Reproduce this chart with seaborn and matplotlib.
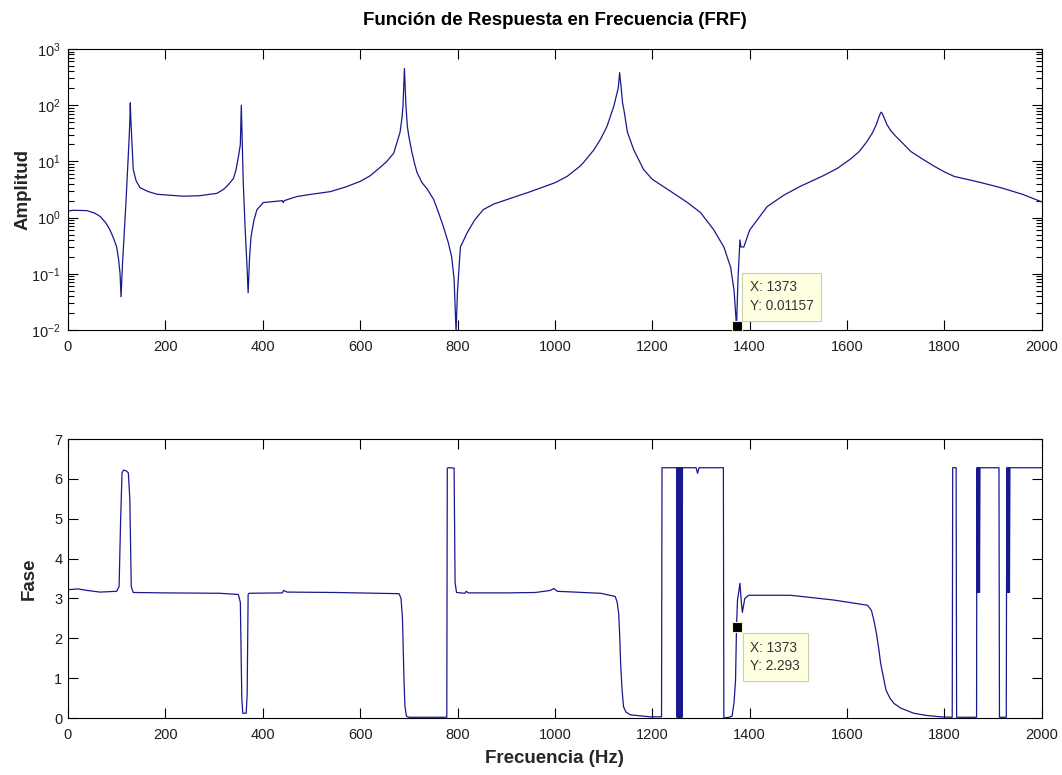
import matplotlib
matplotlib.use("Agg")
import matplotlib.pyplot as plt
from matplotlib.ticker import LogLocator, FixedLocator, NullFormatter
import seaborn as sns
import pandas as pd

# ---- Magnitude of the FRF ----
freq_amp = [0, 10, 39, 55, 66, 78, 86, 94, 100, 104, 107, 109, 112, 116, 119, 121,
            123, 125, 127, 128, 129, 131, 134, 140, 148, 165, 183, 237, 270, 306,
            320, 330, 340, 345, 350, 354, 356, 358, 360, 364, 368, 370, 373, 376,
            382, 388, 401, 440, 442, 444, 470, 500, 539, 570, 600, 620, 641, 655,
            669, 682, 686, 688, 691, 694, 697, 700, 706, 712, 717, 727, 738, 751,
            761, 771, 781, 788, 793, 797, 800, 806, 820, 835, 853, 875, 902, 950,
            1001, 1025, 1050, 1059, 1080, 1094, 1107, 1121, 1130, 1133, 1136, 1139,
            1142, 1149, 1162, 1182, 1200, 1231, 1272, 1299, 1326, 1347, 1361, 1368,
            1373, 1376, 1380, 1382, 1388, 1400, 1436, 1470, 1504, 1550, 1580, 1607,
            1625, 1640, 1652, 1660, 1665, 1668, 1670, 1672, 1676, 1682, 1690, 1700,
            1710, 1731, 1755, 1779, 1800, 1820, 1870, 1916, 1960, 2000]
amplitude = [1.30, 1.35, 1.33, 1.2, 1.05, 0.8, 0.61, 0.42, 0.30, 0.18, 0.1, 0.039,
             0.15, 0.6, 1.8, 4.2, 9, 20, 50, 110, 60, 25, 7.2, 4.5, 3.4, 2.9, 2.6,
             2.4, 2.45, 2.7, 3.2, 3.9, 5.0, 7, 12, 20, 100, 20, 4.2, 0.6, 0.12, 0.046,
             0.2, 0.46, 0.9, 1.38, 1.85, 2.0, 1.85, 2.0, 2.37, 2.6, 2.9, 3.5, 4.4,
             5.5, 7.8, 10, 14, 33, 60, 96, 450, 100, 42, 28, 15, 9, 6.3, 4.2, 3.2,
             2.1, 1.23, 0.69, 0.36, 0.2, 0.08, 0.0095, 0.05, 0.3, 0.54, 0.9, 1.39,
             1.75, 2.1, 2.9, 4.2, 5.4, 8, 9.6, 16, 25, 42, 96, 200, 380, 200, 110,
             80, 33, 16, 7.2, 4.8, 3.2, 1.86, 1.23, 0.61, 0.3, 0.13, 0.05, 0.01157,
             0.08, 0.4, 0.3, 0.3, 0.6, 1.57, 2.5, 3.6, 5.5, 7.5, 11, 15, 22, 32, 45,
             60, 70, 75, 72, 60, 45, 35, 28, 23, 15, 11, 8.2, 6.5, 5.4, 4.3, 3.4,
             2.6, 1.9]

# ---- Phase of the FRF (rad, wrapped to 0..2pi) ----
freq_phase = [0, 1, 20, 40, 66, 85, 100, 105, 108, 111, 114, 120, 124, 127, 130, 134,
              200, 312, 350, 354, 357, 359, 366, 368, 370, 372, 440, 443, 450, 550,
              640, 680, 684, 687, 690, 692, 695, 700, 778, 779, 782, 793, 795, 798,
              815, 818, 822, 900, 960, 990, 998, 1005, 1060, 1094, 1124, 1128, 1131,
              1133, 1135, 1138, 1141, 1146, 1155, 1196, 1219, 1220, 1250, 1251, 1252,
              1253, 1254, 1255, 1256, 1257, 1258, 1259, 1260, 1261, 1262, 1290, 1293,
              1296, 1346, 1347, 1358, 1364, 1368, 1371, 1373, 1375, 1378, 1380, 1383,
              1385, 1390, 1398, 1484, 1573, 1642, 1650, 1655, 1660, 1665, 1669, 1675,
              1680, 1688, 1696, 1710, 1737, 1760, 1792, 1816, 1817, 1824, 1825, 1866,
              1866.3, 1867, 1868, 1869, 1870, 1871, 1872, 1873, 1912, 1912.5, 1913,
              1927, 1927.5, 1928.5, 1929.5, 1930.5, 1931.5, 1932.5, 1933.5, 1934.5,
              2000]
phase = [4.9, 3.22, 3.24, 3.2, 3.16, 3.17, 3.18, 3.3, 4.9, 6.15, 6.22, 6.2, 6.15, 5.5,
         3.3, 3.15, 3.14, 3.13, 3.1, 2.9, 0.5, 0.12, 0.12, 0.6, 3.1, 3.13, 3.14, 3.2,
         3.16, 3.15, 3.13, 3.12, 3.0, 2.5, 1.0, 0.3, 0.05, 0.02, 0.02, 6.27, 6.28,
         6.27, 3.4, 3.15, 3.13, 3.18, 3.14, 3.14, 3.15, 3.2, 3.25, 3.18, 3.15, 3.13,
         3.05, 2.9, 2.62, 2.1, 1.37, 0.7, 0.28, 0.15, 0.08, 0.03, 0.03, 6.28, 6.28,
         0.02, 6.28, 0.02, 6.28, 0.02, 6.28, 0.02, 6.28, 0.02, 6.28, 0.02, 6.28, 6.28,
         6.14, 6.28, 6.28, 0.0, 0.02, 0.05, 0.4, 0.95, 2.293, 2.96, 3.2, 3.38, 2.9,
         2.65, 3.0, 3.08, 3.08, 2.96, 2.83, 2.7, 2.46, 2.15, 1.75, 1.37, 1.0, 0.7,
         0.5, 0.37, 0.25, 0.12, 0.07, 0.03, 0.02, 6.28, 6.28, 0.02, 0.02, 3.15, 6.28,
         3.15, 6.28, 3.15, 6.28, 3.15, 6.28, 6.28, 3.15, 0.02, 0.02, 3.15, 6.28, 3.15,
         6.28, 3.15, 6.28, 3.15, 6.28, 6.28]

# Data cursor readouts
tip_freq = 1373
tip_amp = 0.01157
tip_phase = 2.293

x_ticks = [0, 200, 400, 600, 800, 1000, 1200, 1400, 1600, 1800, 2000]
phase_ticks = [0, 1, 2, 3, 4, 5, 6, 7]

sns.set_style("ticks")
plt.rcParams["font.family"] = ["Liberation Sans", "DejaVu Sans"]
plt.rcParams["mathtext.fontset"] = "custom"
plt.rcParams["mathtext.rm"] = "Liberation Sans"
plt.rcParams["mathtext.it"] = "Liberation Sans:italic"
plt.rcParams["mathtext.bf"] = "Liberation Sans:bold"

line_color = "#18188f"
text_color = "#1e1e1e"

fig = plt.figure(figsize=(10.62, 7.75), dpi=100)
ax1 = fig.add_axes([0.064, 0.5742, 0.917, 0.3626])
ax2 = fig.add_axes([0.064, 0.0735, 0.917, 0.3600])

amp_df = pd.DataFrame({"f": freq_amp, "a": amplitude})
ph_df = pd.DataFrame({"f": freq_phase, "p": phase})

sns.lineplot(data=amp_df, x="f", y="a", ax=ax1, sort=False, estimator=None,
             color=line_color, linewidth=0.9)
sns.lineplot(data=ph_df, x="f", y="p", ax=ax2, sort=False, estimator=None,
             color=line_color, linewidth=0.9)

ax1.set_yscale("log")
ax1.set_ylim(1e-2, 1e3)
ax1.yaxis.set_major_locator(LogLocator(base=10, numticks=10))
ax1.yaxis.set_minor_locator(LogLocator(base=10, subs=range(2, 10), numticks=100))
ax1.yaxis.set_minor_formatter(NullFormatter())
ax2.set_ylim(0, 7)
ax2.yaxis.set_major_locator(FixedLocator(phase_ticks))

for ax in (ax1, ax2):
    ax.set_xlim(0, 2000)
    ax.xaxis.set_major_locator(FixedLocator(x_ticks))
    ax.tick_params(which="both", direction="in", top=True, right=True,
                   colors="black", labelcolor=text_color, labelsize=10.5, width=0.8)
    ax.tick_params(which="major", length=7)
    ax.tick_params(which="minor", length=4)
    ax.tick_params(axis="x", pad=7)
    for s in ax.spines.values():
        s.set_visible(True)
        s.set_linewidth(0.8)
        s.set_color("black")
    ax.set_xlabel("")
    ax.set_ylabel("")

ax1.tick_params(axis="y", pad=5)
ax2.tick_params(axis="y", pad=4)

ax1.set_title("Función de Respuesta en Frecuencia (FRF)", fontsize=13.5,
              fontweight="bold", color="black", pad=17)
ax1.set_ylabel("Amplitud", fontsize=13.5, fontweight="bold", labelpad=0)
ax2.set_ylabel("Fase", fontsize=13.5, fontweight="bold", labelpad=12)
ax2.set_xlabel("Frecuencia (Hz)", fontsize=13.5, fontweight="bold", labelpad=6)

# Data cursor markers and readout boxes
box = dict(boxstyle="square,pad=0.55", facecolor="#ffffe1", edgecolor="#cfcdb0",
           linewidth=0.8)
ax1.plot([tip_freq], [tip_amp], marker="s", markersize=7, color="black",
         markeredgecolor="#f2eec8", markeredgewidth=0.8, zorder=5, clip_on=False)
ax1.annotate(f"X: {tip_freq}\nY: {tip_amp}", xy=(tip_freq, tip_amp),
             xytext=(9.5, 9.5), textcoords="offset points", ha="left", va="bottom",
             fontsize=9.8, color="#333333", bbox=box, linespacing=1.45, zorder=6)
ax2.plot([tip_freq], [tip_phase], marker="s", markersize=7, color="black",
         markeredgecolor="#f2eec8", markeredgewidth=0.8, zorder=5, clip_on=False)
ax2.annotate(f"X: {tip_freq}\nY: {tip_phase}", xy=(tip_freq, tip_phase),
             xytext=(10, -10), textcoords="offset points", ha="left", va="top",
             fontsize=9.8, color="#333333", bbox=box, linespacing=1.45, zorder=6)

fig.savefig("out.png", dpi=100, facecolor="white")
